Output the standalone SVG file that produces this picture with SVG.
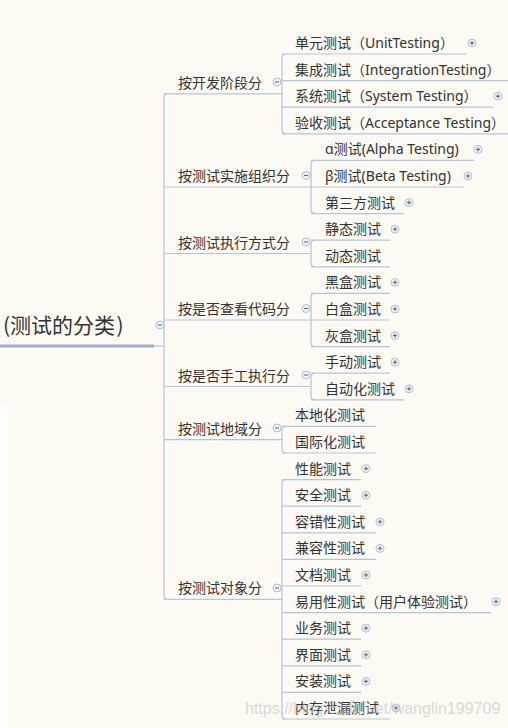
<svg xmlns="http://www.w3.org/2000/svg" width="508" height="728" viewBox="0 0 508 728">
<style>
.t{font-family:"Noto Sans","Noto Sans CJK SC",sans-serif;font-size:14px;fill:#333333}
.root{font-family:"Noto Sans CJK SC",sans-serif;font-size:21px;fill:#333333}
.u{stroke:#B5C5DA;stroke-width:1.2;fill:none}
.c{stroke:#B5C5DA;stroke-width:1.2;fill:none}
.ic{fill:#EEF1F6;stroke:#AEBACB;stroke-width:0.9}
.sg{stroke:#5A6270;stroke-width:1}
.wm{font-family:"Liberation Sans",Arial,sans-serif;font-size:16px;fill:#C4C4C4;opacity:0.6}
</style>
<defs>
<g id="plus"><circle class="ic" r="4"/><path class="sg" d="M-2 0H2M0 -2V2"/></g>
<g id="minus"><circle class="ic" r="4"/><path class="sg" d="M-2 0H2"/></g>
</defs>
<rect width="508" height="728" fill="#FDFAF3"/>
<rect x="0" y="406" width="8" height="322" fill="#FFFFFF"/>

<g id="connectors">
<path class="c" d="M154 346H164"/>
<path class="c" d="M167 93.9Q164 93.9 164 96.9V596.3Q164 599.3 167 599.3"/>
<path class="c" d="M286 54Q282 54 282 58V129.8Q282 133.8 286 133.8"/>
<path class="c" d="M315 160.4Q311 160.4 311 164.4V209.6Q311 213.6 315 213.6"/>
<path class="c" d="M315 240.2Q311 240.2 311 244.2V262.8Q311 266.8 315 266.8"/>
<path class="c" d="M315 293.4Q311 293.4 311 297.4V342.6Q311 346.6 315 346.6"/>
<path class="c" d="M315 373.2Q311 373.2 311 377.2V395.8Q311 399.8 315 399.8"/>
<path class="c" d="M286 426.4Q282 426.4 282 430.4V449Q282 453 286 453"/>
<path class="c" d="M286 479.6Q282 479.6 282 483.6V715Q282 719 286 719"/>
</g>

<g id="root">
<text class="root" x="3" y="333">(测试的分类<tspan dx="1.5">)</tspan></text>
<path d="M0 346H154" stroke="#9FAFC6" stroke-width="3"/>
<use href="#minus" x="160" y="325"/>
</g>

<g id="n-a"><text class="t" x="178" y="87.9">按开发阶段分</text><path class="u" d="M164 93.9H282"/><use href="#minus" x="277" y="82"/></g>
<g id="n-b"><text class="t" x="178" y="181">按测试实施组织分</text><path class="u" d="M164 187H311"/><use href="#minus" x="306" y="175.5"/></g>
<g id="n-c"><text class="t" x="178" y="247.5">按测试执行方式分</text><path class="u" d="M164 253.5H311"/><use href="#minus" x="306" y="242"/></g>
<g id="n-d"><text class="t" x="178" y="314">按是否查看代码分</text><path class="u" d="M164 320H311"/><use href="#minus" x="306" y="308.5"/></g>
<g id="n-e"><text class="t" x="178" y="380.5">按是否手工执行分</text><path class="u" d="M164 386.5H311"/><use href="#minus" x="306" y="375"/></g>
<g id="n-f"><text class="t" x="178" y="433.7">按测试地域分</text><path class="u" d="M164 439.7H282"/><use href="#minus" x="277" y="428"/></g>
<g id="n-g"><text class="t" x="178" y="593.3">按测试对象分</text><path class="u" d="M164 599.3H282"/><use href="#minus" x="277" y="588"/></g>

<g id="l0"><text class="t" x="295" y="48">单元测试（UnitTesting）</text><path class="u" d="M282 54H467"/><use href="#plus" x="472" y="43"/></g>
<g id="l1"><text class="t" x="295" y="74.6">集成测试（IntegrationTesting）</text><path class="u" d="M282 80.6H508"/></g>
<g id="l2"><text class="t" x="295" y="101.2">系统测试（System Testing）</text><path class="u" d="M282 107.2H493"/><use href="#plus" x="498" y="96.2"/></g>
<g id="l3"><text class="t" x="295" y="127.8">验收测试（Acceptance Testing）</text><path class="u" d="M282 133.8H508"/></g>
<g id="l4"><text class="t" x="325" y="154.4">α测试(Alpha Testing)</text><path class="u" d="M311 160.4H474"/><use href="#plus" x="478" y="149.4"/></g>
<g id="l5"><text class="t" x="325" y="181">β测试(Beta Testing)</text><path class="u" d="M311 187H464"/><use href="#plus" x="468" y="176"/></g>
<g id="l6"><text class="t" x="325" y="207.6">第三方测试</text><path class="u" d="M311 213.6H404"/><use href="#plus" x="409" y="202.6"/></g>
<g id="l7"><text class="t" x="325" y="234.2">静态测试</text><path class="u" d="M311 240.2H390"/><use href="#plus" x="395" y="229.2"/></g>
<g id="l8"><text class="t" x="325" y="260.8">动态测试</text><path class="u" d="M311 266.8H390"/></g>
<g id="l9"><text class="t" x="325" y="287.4">黑盒测试</text><path class="u" d="M311 293.4H390"/><use href="#plus" x="395" y="282.4"/></g>
<g id="l10"><text class="t" x="325" y="314">白盒测试</text><path class="u" d="M311 320H390"/><use href="#plus" x="395" y="309"/></g>
<g id="l11"><text class="t" x="325" y="340.6">灰盒测试</text><path class="u" d="M311 346.6H390"/><use href="#plus" x="395" y="335.6"/></g>
<g id="l12"><text class="t" x="325" y="367.2">手动测试</text><path class="u" d="M311 373.2H390"/><use href="#plus" x="395" y="362.2"/></g>
<g id="l13"><text class="t" x="325" y="393.8">自动化测试</text><path class="u" d="M311 399.8H404"/><use href="#plus" x="409" y="388.8"/></g>
<g id="l14"><text class="t" x="295" y="420.4">本地化测试</text><path class="u" d="M282 426.4H376"/></g>
<g id="l15"><text class="t" x="295" y="447">国际化测试</text><path class="u" d="M282 453H376"/></g>
<g id="l16"><text class="t" x="295" y="473.6">性能测试</text><path class="u" d="M282 479.6H361"/><use href="#plus" x="366" y="468.6"/></g>
<g id="l17"><text class="t" x="295" y="500.2">安全测试</text><path class="u" d="M282 506.2H361"/><use href="#plus" x="366" y="495.2"/></g>
<g id="l18"><text class="t" x="295" y="526.8">容错性测试</text><path class="u" d="M282 532.8H376"/><use href="#plus" x="380" y="521.8"/></g>
<g id="l19"><text class="t" x="295" y="553.4">兼容性测试</text><path class="u" d="M282 559.4H376"/><use href="#plus" x="380" y="548.4"/></g>
<g id="l20"><text class="t" x="295" y="580">文档测试</text><path class="u" d="M282 586H361"/><use href="#plus" x="366" y="575"/></g>
<g id="l21"><text class="t" x="295" y="606.6">易用性测试（用户体验测试）</text><path class="u" d="M282 612.6H491"/><use href="#plus" x="496" y="601.6"/></g>
<g id="l22"><text class="t" x="295" y="633.2">业务测试</text><path class="u" d="M282 639.2H361"/><use href="#plus" x="366" y="628.2"/></g>
<g id="l23"><text class="t" x="295" y="659.8">界面测试</text><path class="u" d="M282 665.8H361"/><use href="#plus" x="366" y="654.8"/></g>
<g id="l24"><text class="t" x="295" y="686.4">安装测试</text><path class="u" d="M282 692.4H361"/><use href="#plus" x="366" y="681.4"/></g>
<g id="l25"><text class="t" x="295" y="713">内存泄漏测试</text><path class="u" d="M282 719H390"/><use href="#plus" x="396" y="708"/></g>

<text class="wm" x="245" y="714">https://blog.csdn.net/wanglin199709</text>
</svg>
